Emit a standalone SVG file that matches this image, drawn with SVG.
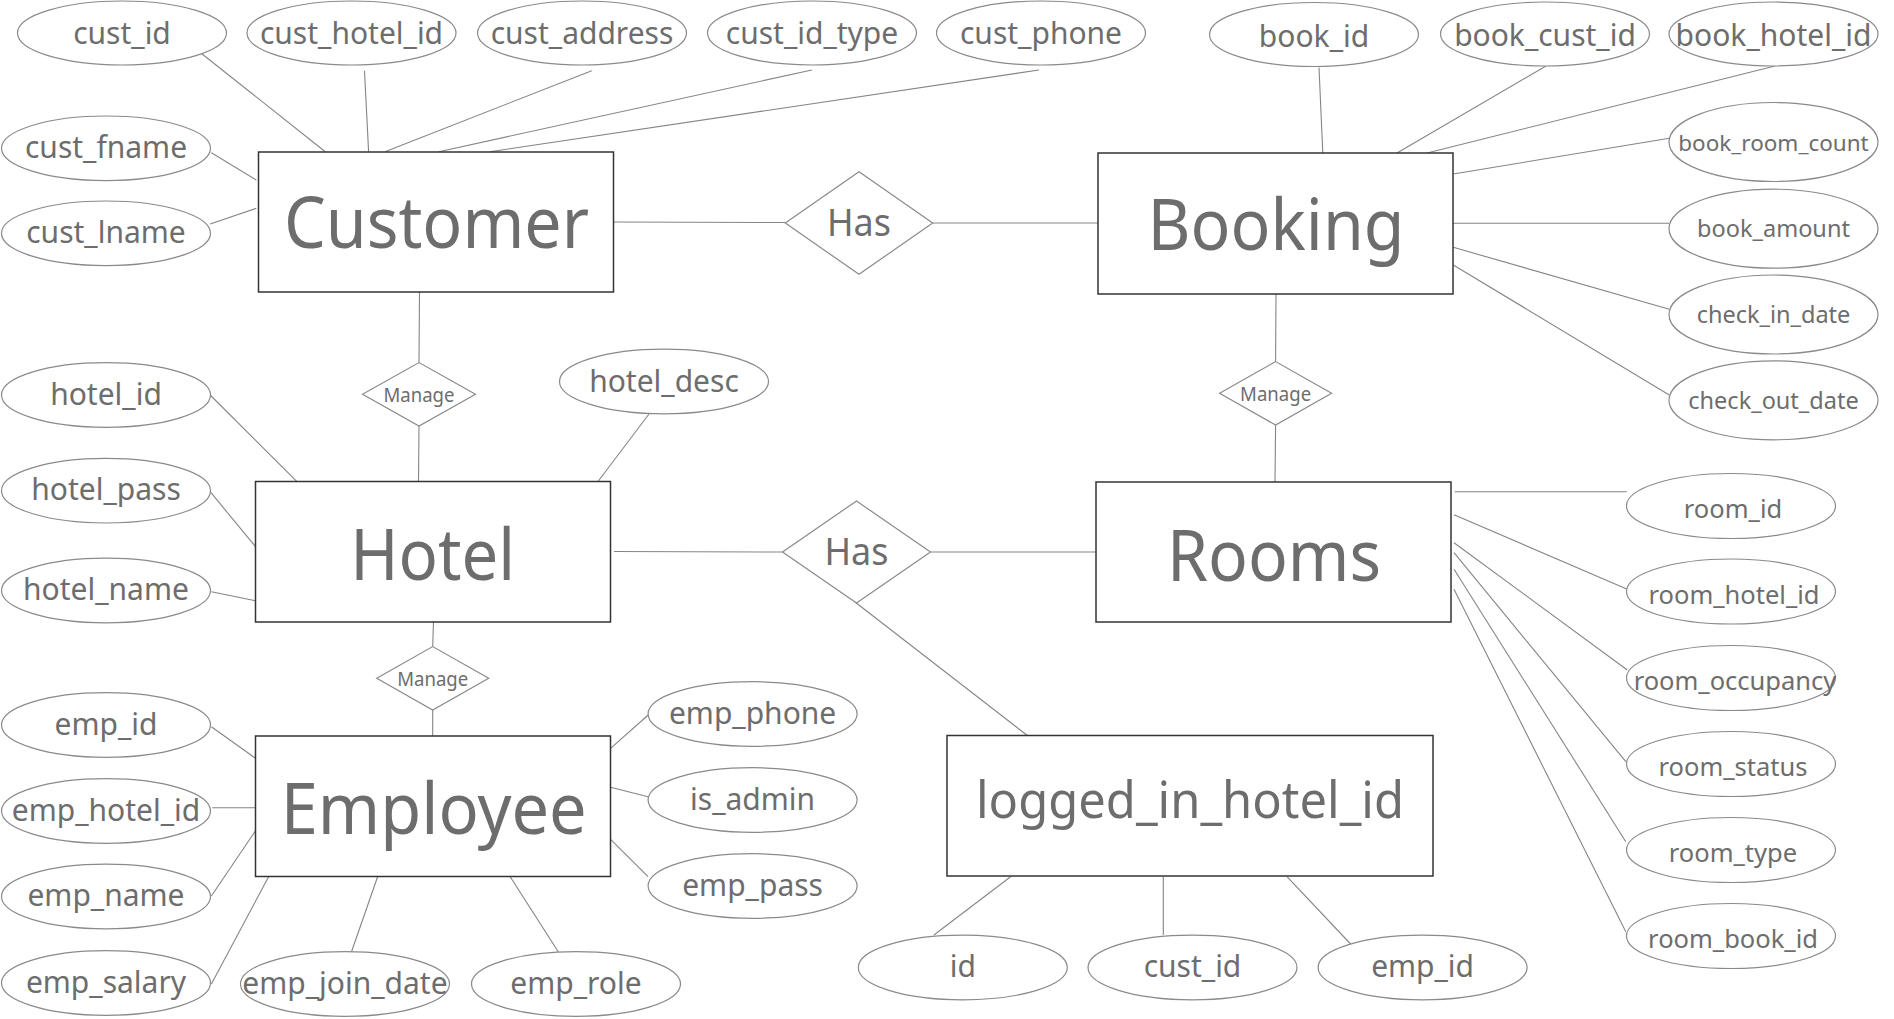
<svg xmlns="http://www.w3.org/2000/svg" width="1894" height="1019" viewBox="0 0 1894 1019">
<style>
text{font-family:"Noto Sans","Open Sans","DejaVu Sans",sans-serif;fill:#6d6d6d;text-anchor:middle}
.ent rect{fill:#fff;stroke:#333;stroke-width:1.5}
.ent text{font-size:72px}
.rel polygon{fill:#fff;stroke:#8a8a8a;stroke-width:1.2}
.attr ellipse{fill:#fff;stroke:#8a8a8a;stroke-width:1.2}
.attr text{font-size:30px}
.attr.sm text{font-size:25.5px}
.attr.xs text{font-size:23.5px}
#connectors line{stroke:#858585;stroke-width:1.1}
</style>
<rect width="1894" height="1019" fill="#fff"/>
<g id="connectors">
<line x1="614" y1="222" x2="785.3" y2="222.5"/>
<line x1="932.7" y1="223" x2="1098" y2="223"/>
<line x1="419.5" y1="292" x2="419" y2="362.6"/>
<line x1="419" y1="426" x2="418.5" y2="481.5"/>
<line x1="1276" y1="294" x2="1275.6" y2="361.6"/>
<line x1="1275.6" y1="425" x2="1275" y2="482"/>
<line x1="433.5" y1="622" x2="432.7" y2="646.6"/>
<line x1="432.7" y1="710" x2="432.7" y2="736"/>
<line x1="614" y1="551.5" x2="782.5" y2="552"/>
<line x1="930.5" y1="552" x2="1096" y2="552"/>
<line x1="855" y1="602" x2="1028" y2="736"/>
<line x1="198" y1="50.7" x2="325.3" y2="151.7"/>
<line x1="364.5" y1="70.7" x2="368.6" y2="151.7"/>
<line x1="591.8" y1="70.7" x2="385" y2="151.7"/>
<line x1="811.8" y1="70" x2="438.8" y2="151.7"/>
<line x1="1039" y1="70" x2="489.8" y2="151.7"/>
<line x1="211.4" y1="152.7" x2="256.3" y2="180"/>
<line x1="210.2" y1="224" x2="256.3" y2="208.3"/>
<line x1="1319" y1="67.6" x2="1322.8" y2="153"/>
<line x1="1546" y1="66" x2="1397" y2="153"/>
<line x1="1775" y1="66" x2="1427" y2="153"/>
<line x1="1669.3" y1="138.3" x2="1453.3" y2="174"/>
<line x1="1669" y1="223.3" x2="1453" y2="223.3"/>
<line x1="1669.3" y1="309.3" x2="1453.3" y2="247.3"/>
<line x1="1669.3" y1="395" x2="1453.3" y2="265"/>
<line x1="210.2" y1="395" x2="296.7" y2="481.3"/>
<line x1="210.2" y1="491.7" x2="255.5" y2="546.7"/>
<line x1="211.4" y1="591.7" x2="255.5" y2="600.7"/>
<line x1="649" y1="414" x2="598" y2="481.5"/>
<line x1="211.4" y1="726.7" x2="255.5" y2="758.3"/>
<line x1="212.2" y1="807.7" x2="255.5" y2="807.7"/>
<line x1="211.4" y1="896" x2="255.5" y2="830.7"/>
<line x1="211.4" y1="984" x2="268.6" y2="876.7"/>
<line x1="351" y1="953.3" x2="377.6" y2="876.7"/>
<line x1="559.2" y1="953.3" x2="510.2" y2="876.7"/>
<line x1="648.2" y1="715" x2="610.6" y2="748.3"/>
<line x1="648" y1="796.7" x2="610.6" y2="787.3"/>
<line x1="648" y1="876.7" x2="610.6" y2="839.3"/>
<line x1="933.9" y1="935" x2="1010.6" y2="876.7"/>
<line x1="1163.3" y1="876.7" x2="1163.3" y2="935"/>
<line x1="1350.6" y1="944" x2="1287" y2="876.7"/>
<line x1="1454.7" y1="491.7" x2="1626.7" y2="491.7"/>
<line x1="1454" y1="514.7" x2="1626.7" y2="589"/>
<line x1="1454" y1="542.7" x2="1627.3" y2="670"/>
<line x1="1454" y1="552.7" x2="1625.8" y2="761.7"/>
<line x1="1454" y1="569.3" x2="1625.8" y2="841.7"/>
<line x1="1454" y1="589.3" x2="1625.8" y2="931.7"/>
</g>
<g id="customer" class="ent"><rect x="258.5" y="152" width="355" height="140"/><text x="436.5" y="248" textLength="305" lengthAdjust="spacingAndGlyphs">Customer</text></g>
<g id="booking" class="ent"><rect x="1098" y="153" width="355" height="141"/><text x="1276" y="250" textLength="257" lengthAdjust="spacingAndGlyphs">Booking</text></g>
<g id="hotel" class="ent"><rect x="255.5" y="481.5" width="355" height="140.5"/><text x="432.7" y="580" textLength="165" lengthAdjust="spacingAndGlyphs">Hotel</text></g>
<g id="rooms" class="ent"><rect x="1096" y="482" width="355" height="140"/><text x="1274" y="581" textLength="214" lengthAdjust="spacingAndGlyphs">Rooms</text></g>
<g id="employee" class="ent"><rect x="255.5" y="736" width="355" height="140.5"/><text x="433.7" y="834" textLength="306" lengthAdjust="spacingAndGlyphs">Employee</text></g>
<g id="logged_in_hotel_id" class="ent"><rect x="947" y="735.5" width="486" height="140.5"/><text x="1190" y="818" style="font-size:51px" textLength="428" lengthAdjust="spacingAndGlyphs">logged_in_hotel_id</text></g>
<g id="has_customer_booking" class="rel"><polygon points="785.3,223 859,171.7 932.7,223 859,274.3"/><text x="859" y="236" style="font-size:39px" textLength="64" lengthAdjust="spacingAndGlyphs">Has</text></g>
<g id="has_hotel_rooms" class="rel"><polygon points="782.5,552 856.5,501 930.5,552 856.5,603"/><text x="856.5" y="565" style="font-size:39px" textLength="64" lengthAdjust="spacingAndGlyphs">Has</text></g>
<g id="manage_customer_hotel" class="rel"><polygon points="362.5,394.3 419,362.6 475.5,394.3 419,426"/><text x="419" y="401.7" style="font-size:19.5px" textLength="71" lengthAdjust="spacingAndGlyphs">Manage</text></g>
<g id="manage_booking_rooms" class="rel"><polygon points="1219.6,393.3 1275.6,361.6 1331.6,393.3 1275.6,425"/><text x="1275.6" y="400.7" style="font-size:19.5px" textLength="71" lengthAdjust="spacingAndGlyphs">Manage</text></g>
<g id="manage_hotel_employee" class="rel"><polygon points="376.7,678.3 432.7,646.6 488.7,678.3 432.7,710"/><text x="432.7" y="685.7" style="font-size:19.5px" textLength="71" lengthAdjust="spacingAndGlyphs">Manage</text></g>
<g id="a_cust_id" class="attr"><ellipse cx="122" cy="33" rx="104.5" ry="32"/><text x="122" y="43.5">cust_id</text></g>
<g id="a_cust_hotel_id" class="attr"><ellipse cx="351.5" cy="33" rx="104.5" ry="32"/><text x="351.5" y="43.5">cust_hotel_id</text></g>
<g id="a_cust_address" class="attr"><ellipse cx="582" cy="33" rx="104.5" ry="32"/><text x="582" y="43.5">cust_address</text></g>
<g id="a_cust_id_type" class="attr"><ellipse cx="812" cy="33" rx="104.5" ry="32"/><text x="812" y="43.5">cust_id_type</text></g>
<g id="a_cust_phone" class="attr"><ellipse cx="1041" cy="33" rx="104.5" ry="32"/><text x="1041" y="43.5">cust_phone</text></g>
<g id="a_book_id" class="attr"><ellipse cx="1314" cy="34.5" rx="104.5" ry="32"/><text x="1314" y="46.5">book_id</text></g>
<g id="a_book_cust_id" class="attr"><ellipse cx="1545" cy="34" rx="104.5" ry="32"/><text x="1545" y="46">book_cust_id</text></g>
<g id="a_book_hotel_id" class="attr"><ellipse cx="1773.5" cy="34" rx="104.5" ry="32"/><text x="1773.5" y="46">book_hotel_id</text></g>
<g id="a_cust_fname" class="attr"><ellipse cx="106" cy="148.3" rx="104.5" ry="32.3"/><text x="106" y="158">cust_fname</text></g>
<g id="a_cust_lname" class="attr"><ellipse cx="106" cy="233.3" rx="104.5" ry="32.3"/><text x="106" y="243">cust_lname</text></g>
<g id="a_hotel_id" class="attr"><ellipse cx="106" cy="395" rx="104.5" ry="32.3"/><text x="106" y="405">hotel_id</text></g>
<g id="a_hotel_pass" class="attr"><ellipse cx="106" cy="490.7" rx="104.5" ry="32.3"/><text x="106" y="500.3">hotel_pass</text></g>
<g id="a_hotel_name" class="attr"><ellipse cx="106" cy="590.5" rx="104.5" ry="32.3"/><text x="106" y="600">hotel_name</text></g>
<g id="a_hotel_desc" class="attr"><ellipse cx="664" cy="381.5" rx="104.5" ry="32.3"/><text x="664" y="391.5">hotel_desc</text></g>
<g id="a_emp_id" class="attr"><ellipse cx="106" cy="725" rx="104.5" ry="32.3"/><text x="106" y="734.5">emp_id</text></g>
<g id="a_emp_hotel_id" class="attr"><ellipse cx="106" cy="811" rx="104.5" ry="32.3"/><text x="106" y="820.5">emp_hotel_id</text></g>
<g id="a_emp_name" class="attr"><ellipse cx="106" cy="896.5" rx="104.5" ry="32.3"/><text x="106" y="906">emp_name</text></g>
<g id="a_emp_salary" class="attr"><ellipse cx="106" cy="983" rx="104.5" ry="32.3"/><text x="106" y="992.5">emp_salary</text></g>
<g id="a_emp_join_date" class="attr"><ellipse cx="345" cy="984" rx="104.5" ry="32.3"/><text x="345" y="993.5">emp_join_date</text></g>
<g id="a_emp_role" class="attr"><ellipse cx="576" cy="984" rx="104.5" ry="32.3"/><text x="576" y="993.5">emp_role</text></g>
<g id="a_emp_phone" class="attr"><ellipse cx="752.6" cy="714" rx="104.5" ry="32.3"/><text x="752.6" y="723.5">emp_phone</text></g>
<g id="a_is_admin" class="attr"><ellipse cx="752.6" cy="800" rx="104.5" ry="32.3"/><text x="752.6" y="809.5">is_admin</text></g>
<g id="a_emp_pass" class="attr"><ellipse cx="752.6" cy="886" rx="104.5" ry="32.3"/><text x="752.6" y="895.5">emp_pass</text></g>
<g id="a_log_id" class="attr"><ellipse cx="962.8" cy="967.5" rx="104.5" ry="32.3"/><text x="962.8" y="977">id</text></g>
<g id="a_log_cust_id" class="attr"><ellipse cx="1192.5" cy="967.5" rx="104.5" ry="32.3"/><text x="1192.5" y="977">cust_id</text></g>
<g id="a_log_emp_id" class="attr"><ellipse cx="1422.6" cy="967.5" rx="104.5" ry="32.3"/><text x="1422.6" y="977">emp_id</text></g>
<g id="a_book_room_count" class="attr xs"><ellipse cx="1773.5" cy="142" rx="104.5" ry="39.5"/><text x="1773.5" y="150.5" style="font-size:22.5px">book_room_count</text></g>
<g id="a_book_amount" class="attr xs"><ellipse cx="1773.5" cy="228.7" rx="104.5" ry="39.5"/><text x="1773.5" y="237.3">book_amount</text></g>
<g id="a_check_in_date" class="attr xs"><ellipse cx="1773.5" cy="314.5" rx="104.5" ry="39.5"/><text x="1773.5" y="323">check_in_date</text></g>
<g id="a_check_out_date" class="attr xs"><ellipse cx="1773.5" cy="400.3" rx="104.5" ry="39.5"/><text x="1773.5" y="408.5">check_out_date</text></g>
<g id="a_room_id" class="attr sm"><ellipse cx="1731" cy="506" rx="104.5" ry="32.5"/><text x="1733" y="518">room_id</text></g>
<g id="a_room_hotel_id" class="attr sm"><ellipse cx="1731" cy="591.5" rx="104.5" ry="32.5"/><text x="1734" y="604">room_hotel_id</text></g>
<g id="a_room_occupancy" class="attr sm"><ellipse cx="1731" cy="678" rx="104.5" ry="32.5"/><text x="1735" y="690">room_occupancy</text></g>
<g id="a_room_status" class="attr sm"><ellipse cx="1731" cy="764" rx="104.5" ry="32.5"/><text x="1733" y="776">room_status</text></g>
<g id="a_room_type" class="attr sm"><ellipse cx="1731" cy="850" rx="104.5" ry="32.5"/><text x="1733" y="862">room_type</text></g>
<g id="a_room_book_id" class="attr sm"><ellipse cx="1731" cy="936" rx="104.5" ry="32.5"/><text x="1733" y="948">room_book_id</text></g>
</svg>
